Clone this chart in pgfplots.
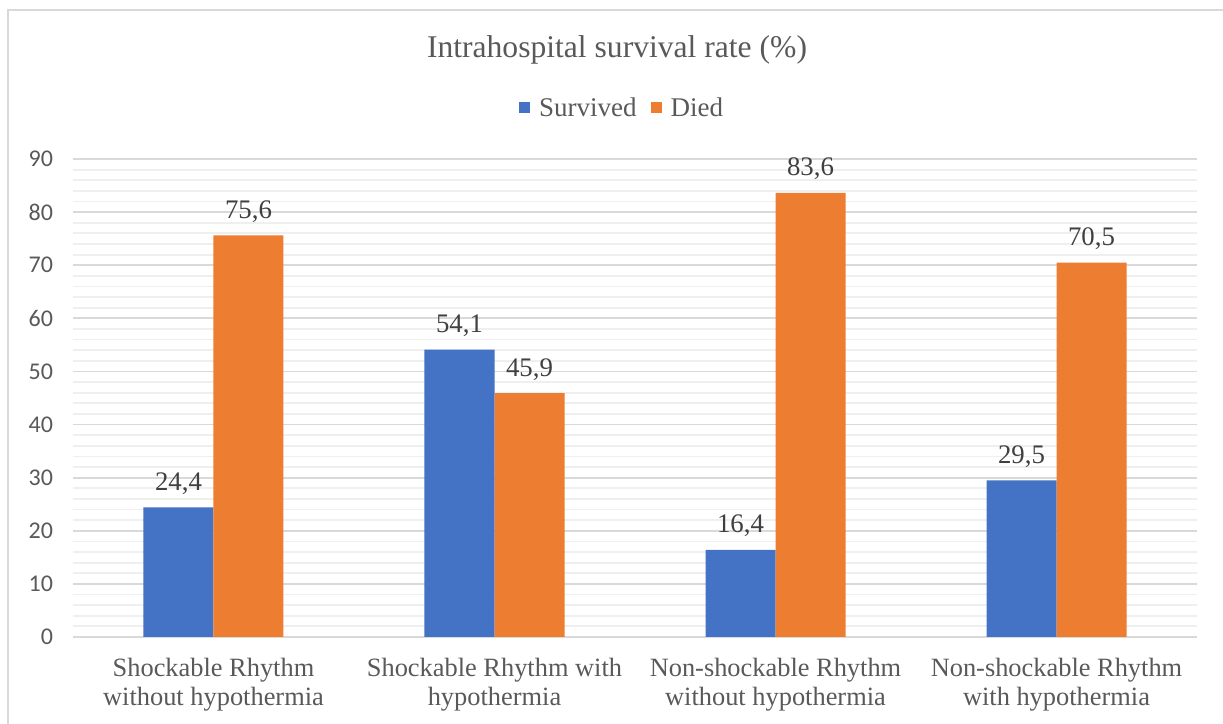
\documentclass[border=0pt]{standalone}
\usepackage{pgfplots}
\pgfplotsset{compat=1.18}
\usepackage{fontspec}
\setmainfont{Liberation Serif}
\newfontfamily\carlito{Carlito}
\definecolor{sblue}{HTML}{4472C4}
\definecolor{sorange}{HTML}{ED7D31}
\definecolor{txtgray}{HTML}{595959}
\definecolor{lblgray}{HTML}{404040}
\definecolor{gridmaj}{HTML}{D9D9D9}
\definecolor{gridmin}{HTML}{EFEFEF}
\begin{document}
\begin{tikzpicture}
\useasboundingbox (-36.5pt,-43.5pt) rectangle (575pt,318.5pt);
\draw[gridmaj, line width=1pt] (-32.5pt,-60pt) -- (-32.5pt,313.5pt) -- (600pt,313.5pt);
\begin{axis}[
  at={(0,0)}, anchor=south west, scale only axis,
  width=562pt, height=239pt,
  xmin=-0.5, xmax=3.5, ymin=0, ymax=90,
  clip=false,
  ybar=0pt, bar width=35pt,
  xtick={0,1,2,3},
  xticklabels={{Shockable Rhythm\\without hypothermia},{Shockable Rhythm with\\hypothermia},{Non-shockable Rhythm\\without hypothermia},{Non-shockable Rhythm\\with hypothermia}},
  xticklabel style={align=center, text=txtgray, font=\fontsize{13.2}{14.7}\selectfont, yshift=-7pt},
  ytick={0,10,...,90},
  minor y tick num=4,
  yticklabel style={text=txtgray, font=\carlito\fontsize{12}{13}\selectfont, xshift=-6.5pt},
  /pgf/number format/assume math mode=true,
  ymajorgrids, yminorgrids,
  major grid style={gridmaj, line width=0.9pt},
  minor grid style={gridmin, line width=0.9pt},
  axis x line*=bottom, axis y line*=left,
  y axis line style={draw=none},
  x axis line style={gridmaj, line width=1.2pt, -},
  major tick length=0pt, minor tick length=0pt,
  nodes near coords,
  every node near coord/.append style={text=lblgray, yshift=3pt, font=\fontsize{13.4}{15}\selectfont, /pgf/number format/.cd, use comma, fixed, fixed zerofill, precision=1, assume math mode=true},
  legend style={at={(0.4895,1.105)}, anchor=center, draw=none, fill=none, legend columns=2,
    font=\fontsize{13.5}{15}\selectfont, text=txtgray,
    /tikz/every even column/.append style={column sep=5pt}},
  legend image code/.code={\fill[#1] (0pt,-2pt) rectangle (5.5pt,3.5pt); \path (8pt,0pt);},
]
\addplot[fill=sblue, draw=none] coordinates {(0,24.4) (1,54.1) (2,16.4) (3,29.5)};
\addplot[fill=sorange, draw=none] coordinates {(0,75.6) (1,45.9) (2,83.6) (3,70.5)};
\legend{Survived, Died}
\node[text=txtgray, font=\fontsize{15.8}{18}\selectfont] at (rel axis cs:0.484,1.228) {Intrahospital survival rate (\%)};
\end{axis}
\end{tikzpicture}
\end{document}
